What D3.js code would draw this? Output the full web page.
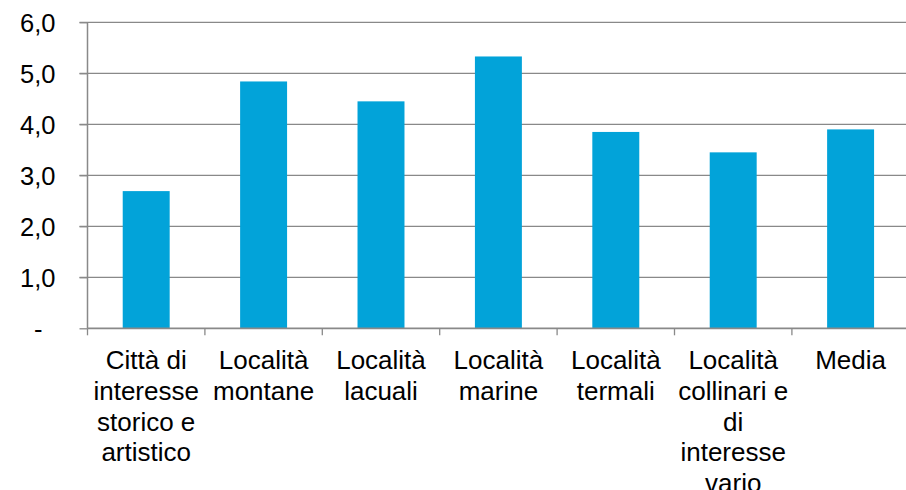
<!DOCTYPE html>
<html>
<head>
<meta charset="utf-8">
<script src="https://cdn.jsdelivr.net/npm/d3@7"></script>
<style>
  html, body { margin: 0; padding: 0; background: #fff; }
  svg text { font-family: "Liberation Sans", Arial, sans-serif; fill: #000; }
</style>
</head>
<body>
<svg id="chart"></svg>
<script>
// data
var categories = [
  "Città di interesse storico e artistico",
  "Località montane",
  "Località lacuali",
  "Località marine",
  "Località termali",
  "Località collinari e di interesse vario",
  "Media"
];
var values = [2.69, 4.84, 4.45, 5.33, 3.85, 3.45, 3.90];
var yTicks = [0, 1, 2, 3, 4, 5, 6];

var width = 906,
    height = 490;

// plot edges (window.top is reserved, so no bare "top")
var plotLeft = 87.5,
    plotRight = 909.3,
    plotTop = 22.3,
    plotBottom = 328.3;

var svg = d3.select("#chart")
    .attr("width", width)
    .attr("height", height);

var x = d3.scaleBand()
    .domain(categories)
    .range([plotLeft, plotRight])
    .padding(0);

var y = d3.scaleLinear()
    .domain([0, 6])
    .range([plotBottom, plotTop]);

var fmt = function(d) {
  return d === 0 ? "-" : d.toFixed(1).replace(".", ",");
};

// gridlines
svg.append("g")
  .selectAll("line")
  .data(yTicks.filter(function(d) { return d > 0; }))
  .enter()
  .append("line")
    .attr("x1", plotLeft - 8)
    .attr("x2", width)
    .attr("y1", function(d) { return y(d); })
    .attr("y2", function(d) { return y(d); })
    .attr("stroke", "#898989")
    .attr("stroke-width", 1.3);

// bars
var barW = x.bandwidth() * 0.4;
svg.append("g")
  .selectAll("rect")
  .data(values)
  .enter()
  .append("rect")
    .attr("x", function(d, i) { return x(categories[i]) + x.bandwidth() / 2 - barW / 2; })
    .attr("y", function(d) { return y(d); })
    .attr("width", barW)
    .attr("height", function(d) { return y(0) - y(d); })
    .attr("fill", "#02a3d9");

// y axis line and ticks
var yAxis = svg.append("g")
    .attr("transform", "translate(" + plotLeft + ",0)")
    .call(d3.axisLeft(y).tickValues(yTicks).tickFormat(fmt).tickSize(8));

yAxis.select(".domain")
    .attr("d", "M0," + plotTop + "V" + plotBottom)
    .attr("stroke", "#898989")
    .attr("stroke-width", 1.5);
yAxis.selectAll(".tick line").attr("stroke", "#898989").attr("stroke-width", 1.3);
yAxis.selectAll(".tick text")
    .style("font-size", "25.5px")
    .attr("dy", "0.36em")
    .attr("x", function(d) { return d === 0 ? -45 : -32; });

// x axis
var xAxis = svg.append("g")
    .attr("transform", "translate(0," + plotBottom + ")")
    .call(d3.axisBottom(x).tickSize(0).tickFormat(""));

xAxis.select(".domain")
    .attr("d", "M" + plotLeft + ",0H" + width)
    .attr("stroke", "#898989")
    .attr("stroke-width", 1.75);

// category boundary ticks
svg.append("g")
  .selectAll("line")
  .data(categories.concat([null]))
  .enter()
  .append("line")
    .attr("x1", function(d, i) { return plotLeft + i * x.step(); })
    .attr("x2", function(d, i) { return plotLeft + i * x.step(); })
    .attr("y1", plotBottom)
    .attr("y2", plotBottom + 7)
    .attr("stroke", "#898989")
    .attr("stroke-width", 1.3);

// category labels, wrapped to band width
var maxW = x.bandwidth() - 2;
var labels = svg.append("g")
  .selectAll("text")
  .data(categories)
  .enter()
  .append("text")
    .attr("text-anchor", "middle")
    .style("font-size", "26px")
    .attr("x", function(d) { return x(d) + x.bandwidth() / 2; })
    .attr("y", plotBottom + 41);

labels.each(function(d) {
  var text = d3.select(this);
  var cx = text.attr("x");
  var words = d.split(" ");
  var line = [];
  var tspan = text.append("tspan").attr("x", cx).attr("dy", 0);
  words.forEach(function(w) {
    line.push(w);
    tspan.text(line.join(" "));
    if (tspan.node().getComputedTextLength() > maxW && line.length > 1) {
      line.pop();
      tspan.text(line.join(" "));
      line = [w];
      tspan = text.append("tspan").attr("x", cx).attr("dy", 30.7).text(w);
    }
  });
});
</script>
</body>
</html>
